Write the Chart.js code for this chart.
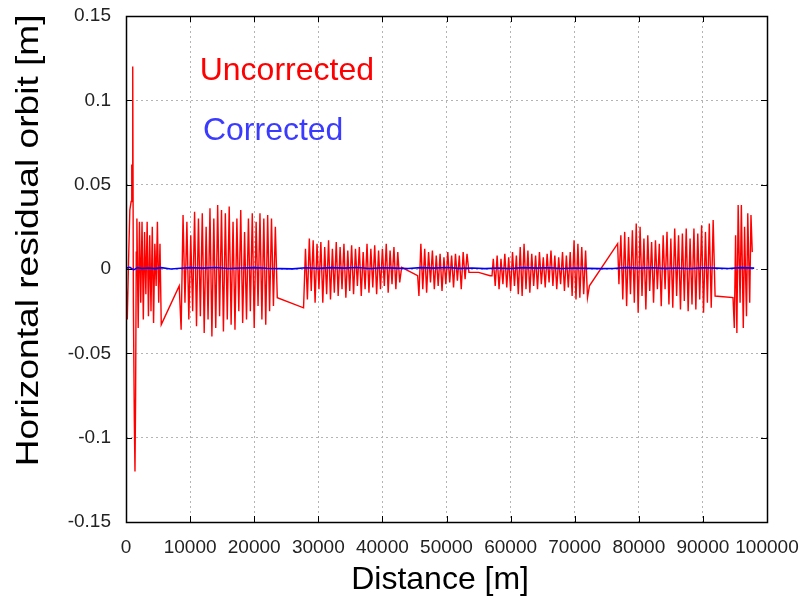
<!DOCTYPE html>
<html>
<head>
<meta charset="utf-8">
<script src="https://cdn.jsdelivr.net/npm/chart.js@4.4.1/dist/chart.umd.min.js"></script>
<style>
html,body{margin:0;padding:0;background:#fff;}
#wrap{width:800px;height:600px;position:relative;}
</style>
</head>
<body>
<div id="wrap"><canvas id="c" width="800" height="600"></canvas></div>
<script>
// ---- data ----
const xTicks = [0,10000,20000,30000,40000,50000,60000,70000,80000,90000,100000];
const yTicks = [-0.15,-0.1,-0.05,0,0.05,0.1,0.15];
const seriesNames = ["Uncorrected","Corrected"];
const xTitle = "Distance [m]";
const yTitle = "Horizontal residual orbit [m]";

const uncorrected = [
 [0,-0.005],[200,-0.03],[400,0.005],[600,0.035],[800,0.04],[900,0.062],[1000,0.045],[1050,0.12],[1150,-0.02],[1300,-0.09],[1400,-0.12],[1500,-0.075],[1600,0.01],[1700,0.03],
 [1900,-0.035],[2100,0.028],[2300,-0.02],[2500,0.028],[2700,-0.03],[2900,0.022],[3100,-0.015],[3300,0.028],[3500,-0.028],[3700,0.02],[3900,-0.025],[4100,0.025],[4300,-0.032],[4500,0.015],[4700,-0.01],[4900,0.028],[5100,-0.02],[5300,0.015],[5500,-0.033],
 [8300,-0.01],[8600,-0.036],[8900,0.032],[9200,-0.02],[9500,0.028],[9800,-0.03],[10100,0.02],[10400,-0.025],[10700,0.034],[11000,-0.034],[11300,0.03],[11600,-0.028],[11900,0.033],[12200,-0.038],[12500,0.025],[12800,-0.03],[13100,0.036],[13400,-0.04],[13700,0.03],[14000,-0.035],[14300,0.038],[14600,-0.028],[14900,0.035],[15200,-0.037],[15500,0.033],[15800,-0.03],[16100,0.037],[16400,-0.033],[16700,0.028],[17000,-0.036],[17300,0.03],[17600,-0.025],[17900,0.035],[18200,-0.032],[18500,0.022],[18800,-0.03],[19100,0.03],[19400,-0.025],[19700,0.033],[20000,-0.035],[20300,0.028],[20600,-0.022],[20900,0.033],[21200,-0.03],[21500,0.03],[21800,-0.033],[22100,0.032],[22400,-0.025],[22700,0.03],[23000,-0.022],[23300,0.025],[23600,-0.017],
 [27700,-0.023],[28000,0.012],[28300,-0.018],[28600,0.018],[28900,-0.013],[29200,0.017],[29500,-0.02],[29800,0.015],[30100,-0.012],[30400,0.016],[30700,-0.02],[31000,0.013],[31300,-0.015],[31600,0.017],[31900,-0.018],[32200,0.012],[32500,-0.014],[32800,0.016],[33100,-0.016],[33400,0.013],[33700,-0.012],[34000,0.015],[34300,-0.017],[34600,0.011],[34900,-0.013],[35200,0.014],[35500,-0.015],[35800,0.012],[36100,-0.01],[36400,0.013],[36700,-0.016],[37000,0.01],[37300,-0.012],[37600,0.015],[37900,-0.014],[38200,0.012],[38500,-0.011],[38800,0.014],[39100,-0.015],[39400,0.011],[39700,-0.012],[40000,0.012],[40300,-0.01],[40600,0.015],[40900,-0.014],[41200,0.011],[41500,-0.009],[41800,0.013],[42100,-0.012],[42400,0.01],[42700,-0.008],[43000,0.001],
 [45500,-0.004],[45700,-0.016],[46000,0.015],[46300,-0.012],[46600,0.012],[46900,-0.014],[47200,0.01],[47500,-0.008],[47800,0.011],[48100,-0.012],[48400,0.008],[48700,-0.01],[49000,0.009],[49300,-0.013],[49600,0.007],[49900,-0.009],[50200,0.01],[50500,-0.008],[50800,0.008],[51100,-0.011],[51400,0.009],[51700,-0.007],[52000,0.008],[52300,-0.012],[52600,0.01],[52900,-0.006],[53200,0.009],[53500,-0.002],[55000,-0.002],[56800,-0.004],
 [57100,-0.004],[57300,0.006],[57600,-0.01],[57900,0.008],[58200,-0.012],[58500,0.006],[58800,-0.009],[59100,0.009],[59400,-0.011],[59700,0.007],[60000,-0.013],[60300,0.01],[60600,-0.01],[60900,0.008],[61200,-0.015],[61500,0.013],[61800,-0.016],[62100,0.015],[62400,-0.012],[62700,0.011],[63000,-0.014],[63300,0.009],[63600,-0.01],[63900,0.008],[64200,-0.012],[64500,0.01],[64800,-0.009],[65100,0.007],[65400,-0.011],[65700,0.009],[66000,-0.008],[66300,0.011],[66600,-0.01],[66900,0.008],[67200,-0.012],[67500,0.007],[67800,-0.009],[68100,0.01],[68400,-0.013],[68700,0.008],[69000,-0.011],[69300,0.01],[69600,-0.016],[69900,0.017],[70200,-0.018],[70500,0.015],[70800,-0.017],[71100,0.013],[71400,-0.015],[71700,0.011],[72000,-0.017],[72300,-0.01],
 [76700,0.015],[76900,-0.009],[77200,0.02],[77500,-0.018],[77800,0.022],[78100,-0.022],[78400,0.019],[78700,-0.015],[79000,0.023],[79300,-0.02],[79600,0.027],[79900,-0.026],[80200,0.025],[80500,-0.016],[80800,0.018],[81100,-0.024],[81400,0.02],[81700,-0.013],[82000,0.016],[82300,-0.02],[82600,0.017],[82900,-0.012],[83200,0.015],[83500,-0.022],[83800,0.02],[84100,-0.012],[84400,0.022],[84700,-0.021],[85000,0.018],[85300,-0.023],[85600,0.024],[85900,-0.016],[86200,0.02],[86500,-0.024],[86800,0.021],[87100,-0.019],[87400,0.024],[87700,-0.025],[88000,0.018],[88300,-0.021],[88600,0.024],[88900,-0.024],[89200,0.021],[89500,-0.018],[89800,0.026],[90100,-0.026],[90400,0.022],[90700,-0.02],[91000,0.027],[91300,-0.023],[91600,0.029],[91900,-0.016],
 [94700,-0.017],[94900,-0.035],[95100,0.02],[95300,-0.038],[95500,0.038],[95800,-0.02],[96000,0.038],[96300,-0.035],[96500,0.025],[96800,-0.028],[97000,0.033],[97300,-0.02],[97500,0.032],[97700,0.01]
];

const corrected = [
 [0,0.0005],[600,0.001],[1200,-0.0005],[1800,0.0008],[2500,0.0003],[3500,0.0006],[4500,0.0002],[5500,0.0008],[7000,0],[8500,0.0004],[10000,0.0008],[12000,0.0005],[14000,0.0009],[16000,0.0003],[18000,0.0006],[20000,0.0008],[22000,0.0004],[24000,0.0002],[26000,0.0001],[28000,0.0007],[30000,0.0004],[32000,0.0008],[34000,0.0005],[36000,0.0009],[38000,0.0003],[40000,0.0007],[42000,0.0005],[44000,0.0003],[46000,0.0008],[48000,0.0005],[50000,0.0009],[52000,0.0004],[54000,0.0006],[56000,0.0002],[58000,0.0006],[60000,0.0003],[62000,0.0008],[64000,0.0005],[66000,0.0007],[68000,0.0003],[70000,0.0006],[72000,0.0004],[74000,0.0002],[76000,0.0003],[78000,0.0008],[80000,0.0005],[82000,0.0007],[84000,0.0004],[86000,0.0006],[88000,0.0003],[90000,0.0007],[92000,0.0005],[94000,0.0003],[96000,0.0008],[98000,0.0005]
];

// label anchor points (data coordinates)
const labelAnchors = [[11500,0.117],[12000,0.082]];

// ---- chart ----
const FONT = "'Liberation Sans', Arial, sans-serif";
const toXY = arr => arr.map(p => ({x:p[0], y:p[1]}));

const frame = {
  id:'frame',
  afterDraw(chart){
    const {ctx, chartArea:a, scales:{x, y}} = chart;
    ctx.save();
    ctx.strokeStyle = '#000';
    ctx.lineWidth = 1;
    ctx.beginPath();
    const L = 6;
    xTicks.forEach(v => {
      const px = Math.round(x.getPixelForValue(v)) + 0.5;
      ctx.moveTo(px, a.bottom); ctx.lineTo(px, a.bottom - L);
      ctx.moveTo(px, a.top); ctx.lineTo(px, a.top + L);
    });
    yTicks.forEach(v => {
      const py = Math.round(y.getPixelForValue(v)) + 0.5;
      ctx.moveTo(a.left, py); ctx.lineTo(a.left + L, py);
      ctx.moveTo(a.right, py); ctx.lineTo(a.right - L, py);
    });
    ctx.stroke();
    ctx.lineWidth = 1.5;
    ctx.strokeRect(Math.round(a.left)+0.5, Math.round(a.top)+0.5, Math.round(a.right-a.left), Math.round(a.bottom-a.top));
    // series labels
    ctx.font = "32px " + FONT;
    ctx.textBaseline = 'middle';
    ctx.textAlign = 'left';
    const cols = ['#ff0000', '#3b3bff'];
    seriesNames.forEach((n, i) => {
      ctx.fillStyle = cols[i];
      ctx.fillText(n, x.getPixelForValue(labelAnchors[i][0]), y.getPixelForValue(labelAnchors[i][1]));
    });
    // axis titles
    ctx.fillStyle = '#000';
    ctx.textAlign = 'center';
    ctx.font = "32px " + FONT;
    ctx.fillText(xTitle, x.getPixelForValue(49000), 580);
    ctx.translate(29, y.getPixelForValue(0.017));
    ctx.rotate(-Math.PI / 2);
    ctx.scale(1.16, 1);
    ctx.fillText(yTitle, 0, 0);
    ctx.restore();
  }
};

new Chart(document.getElementById('c'), {
  type:'line',
  data:{
    datasets:[
      {label:seriesNames[1], data:toXY(corrected), borderColor:'#0000ff', borderWidth:1.6, pointRadius:0, tension:0, fill:false},
      {label:seriesNames[0], data:toXY(uncorrected), borderColor:'#ff0000', borderWidth:1.4, pointRadius:0, tension:0, fill:false}
    ]
  },
  options:{
    responsive:false,
    animation:false,
    layout:{padding:{left:0, right:33, top:16, bottom:0}},
    plugins:{legend:{display:false}, tooltip:{enabled:false}},
    scales:{
      x:{
        type:'linear', min:0, max:100000,
        afterBuildTicks: s => { s.ticks = xTicks.map(v => ({value:v})); },
        afterFit: s => { s.height = 78; s.paddingLeft = 0; s.paddingRight = 0; s.paddingTop = 0; s.paddingBottom = 0; },
        grid:{color:'#b4b4b4', lineWidth:1, drawTicks:false},
        border:{display:false, dash:[2,3]},
        ticks:{padding:14, color:'#222', font:{family:FONT, size:19}, maxRotation:0, autoSkip:false, callback:v => String(v)},
        title:{display:false}
      },
      y:{
        type:'linear', min:-0.15, max:0.15,
        afterBuildTicks: s => { s.ticks = yTicks.map(v => ({value:v})); },
        afterFit: s => { s.width = 126; s.paddingLeft = 0; s.paddingRight = 0; s.paddingTop = 0; s.paddingBottom = 0; },
        grid:{color:'#b4b4b4', lineWidth:1, drawTicks:false},
        border:{display:false, dash:[2,3]},
        ticks:{padding:15, color:'#222', font:{family:FONT, size:19}, autoSkip:false, callback:v => String(parseFloat(Number(v).toFixed(2)))},
        title:{display:false}
      }
    }
  },
  plugins:[frame]
});
</script>
</body>
</html>
